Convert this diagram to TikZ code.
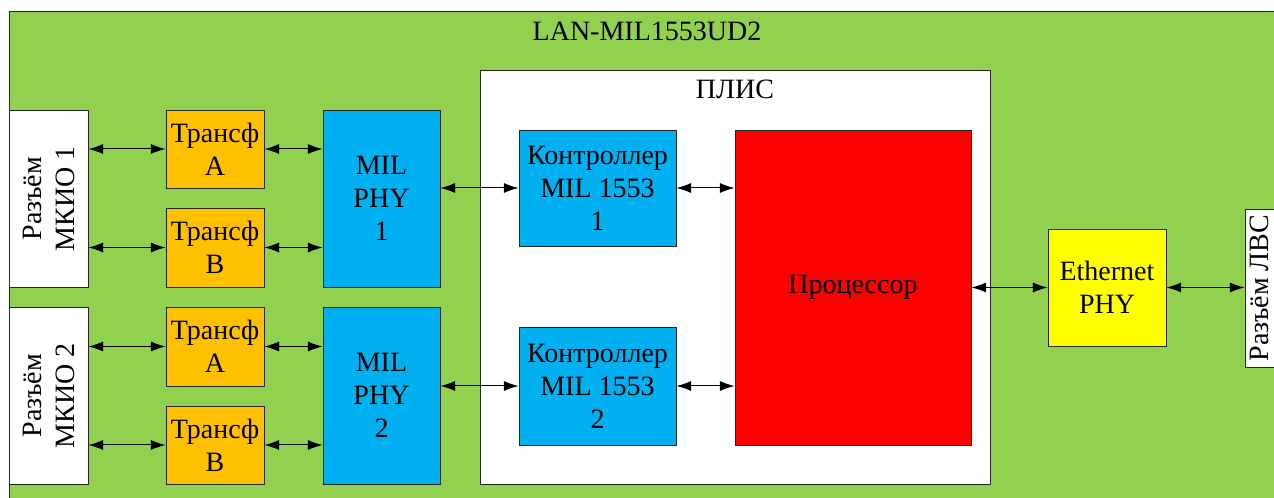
\documentclass[tikz,border=0pt]{standalone}
\usepackage{fontspec}
\setmainfont{Liberation Serif}
\usetikzlibrary{arrows.meta,fit}
\definecolor{boardgreen}{RGB}{146,208,80}
\definecolor{trorange}{RGB}{255,192,0}
\definecolor{phyblue}{RGB}{0,176,240}
\definecolor{procred}{RGB}{255,0,0}
\definecolor{ethyellow}{RGB}{255,255,0}
\begin{document}
\begin{tikzpicture}[x=0.75pt,y=-0.75pt,
  font=\fontsize{21}{24.75}\selectfont,
  blk/.style={draw=black!85, line width=0.6pt, inner sep=0pt},
  txt/.style={align=center, inner sep=0pt},
  arr/.style={{Latex[length=11pt,width=7.5pt]}-{Latex[length=11pt,width=7.5pt]}, line width=0.75pt}]
\useasboundingbox (0,0) rectangle (1274,498);
\clip (0,0) rectangle (1274,498);
% board
\node[blk, fill=boardgreen, fit={(9,11) (1300,520)}] (board) {};
\node[txt] (title) at (647,31) {LAN-MIL1553UD2};
% FPGA
\node[blk, fill=white, fit={(480,70) (990,484)}] (plis) {};
\node[txt] (plist) at (735,89) {ПЛИС};
% connectors
\node[blk, fill=white, fit={(9,110) (88,287)}] (mk1) {};
\node[txt, rotate=90] (mk1t) at (mk1.center) {Разъём\\МКИО 1};
\node[blk, fill=white, fit={(9,307) (88,484)}] (mk2) {};
\node[txt, rotate=90] (mk2t) at (mk2.center) {Разъём\\МКИО 2};
\node[blk, fill=white, fit={(1245,209) (1300,367)}] (lvs) {};
\node[txt, rotate=90] (lvst) at (1259,288) {Разъём ЛВС};
% transformers
\node[blk, fill=trorange, fit={(166,110) (264,188)}] (ta1) {};
\node[txt] (ta1t) at (ta1.center) {Трансф\\A};
\node[blk, fill=trorange, fit={(166,208) (264,287)}] (tb1) {};
\node[txt] (tb1t) at (tb1.center) {Трансф\\B};
\node[blk, fill=trorange, fit={(166,307) (264,386)}] (ta2) {};
\node[txt] (ta2t) at (ta2.center) {Трансф\\A};
\node[blk, fill=trorange, fit={(166,406) (264,484)}] (tb2) {};
\node[txt] (tb2t) at (tb2.center) {Трансф\\B};
% PHY
\node[blk, fill=phyblue, fit={(323,110) (440,287)}] (phy1) {};
\node[txt] (phy1t) at (phy1.center) {MIL\\PHY\\1};
\node[blk, fill=phyblue, fit={(323,307) (440,484)}] (phy2) {};
\node[txt] (phy2t) at (phy2.center) {MIL\\PHY\\2};
% controllers
\node[blk, fill=phyblue, fit={(519,130) (676,246)}] (k1) {};
\node[txt] (k1t) at (k1.center) {Контроллер\\MIL 1553\\1};
\node[blk, fill=phyblue, fit={(519,327) (676,445)}] (k2) {};
\node[txt] (k2t) at (k2.center) {Контроллер\\MIL 1553\\2};
% processor
\node[blk, fill=procred, fit={(735,130) (971,445)}] (proc) {};
\node[txt] (proct) at (proc.center) {Процессор};
% ethernet
\node[blk, fill=ethyellow, fit={(1048,229) (1166,346)}] (eth) {};
\node[txt] (etht) at (eth.center) {Ethernet\\PHY};
% arrows
\draw[arr] (ta1.west -| mk1.east) -- (ta1.west);
\draw[arr] (tb1.west -| mk1.east) -- (tb1.west);
\draw[arr] (ta2.west -| mk2.east) -- (ta2.west);
\draw[arr] (tb2.west -| mk2.east) -- (tb2.west);
\draw[arr] (ta1.east) -- (ta1.east -| phy1.west);
\draw[arr] (tb1.east) -- (tb1.east -| phy1.west);
\draw[arr] (ta2.east) -- (ta2.east -| phy2.west);
\draw[arr] (tb2.east) -- (tb2.east -| phy2.west);
\draw[arr] (k1.west -| phy1.east) -- (k1.west);
\draw[arr] (k2.west -| phy2.east) -- (k2.west);
\draw[arr] (k1.east) -- (k1.east -| proc.west);
\draw[arr] (k2.east) -- (k2.east -| proc.west);
\draw[arr] (eth.west -| proc.east) -- (eth.west);
\draw[arr] (eth.east) -- (eth.east -| lvs.west);
\end{tikzpicture}
\end{document}
